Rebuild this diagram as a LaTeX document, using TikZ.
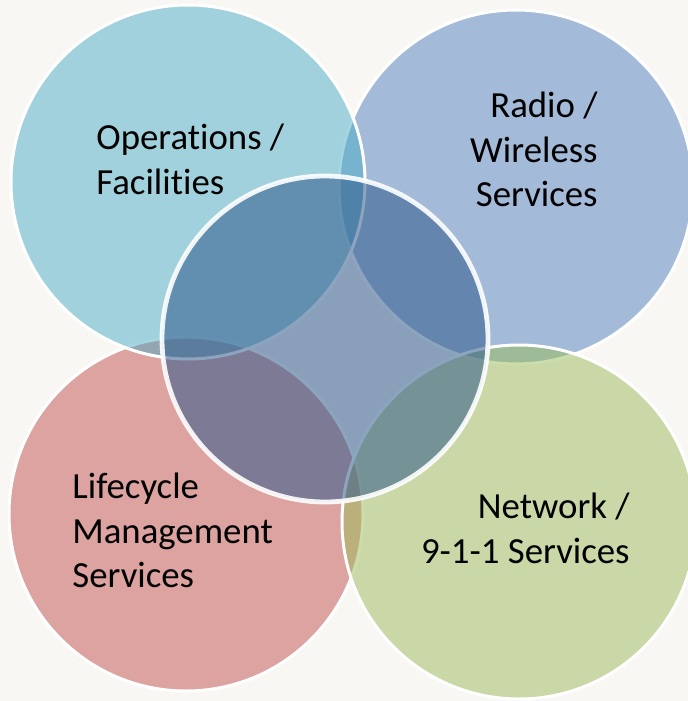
\documentclass[tikz,border=0pt]{standalone}
\usepackage{fontspec}
\setmainfont{Carlito}[Ligatures={NoCommon,NoContextual}]
\usepackage{tikz}
\usepackage{xcolor}
\definecolor{ops-teal}{RGB}{75,172,198}
\definecolor{radio-blue}{RGB}{79,129,189}
\definecolor{life-red}{RGB}{192,80,77}
\definecolor{net-green}{RGB}{155,187,89}
\definecolor{core-blue}{RGB}{48,90,140}
\definecolor{paper}{RGB}{249,247,244}
\tikzset{
    venn-circle/.style = {circle, draw=white, line width=1.5pt, fill opacity=0.5, minimum size=177pt, inner sep=0pt},
    venn-core/.style = {circle, draw=white, draw opacity=0.9, line width=2.4pt, fill=core-blue, fill opacity=0.55, minimum size=163pt, inner sep=0pt},
    venn-label/.style = {text=black, inner sep=0pt, font=\fontsize{18.4}{22.2}\selectfont},
}

\begin{document}
\begin{tikzpicture}[x=0.5pt, y=-0.5pt]
\fill[paper] (0,0) rectangle (688,701);
\useasboundingbox (0,0) rectangle (688,701);
\node[venn-circle, fill=radio-blue] (radio) at (516,187) {};
\node[venn-circle, fill=life-red] (lifecycle) at (186,514) {};
\node[venn-circle, fill=ops-teal] (operations) at (188,182) {};
\node[venn-circle, fill=net-green] (network) at (519,522) {};
\node[venn-core] (core) at (325,339) {};
\node[venn-label, anchor=north west, align=left] (operations-text) at (96,124) {Operations /\\Facilities};
\node[venn-label, anchor=north east, align=right] (radio-text) at (598,92) {Radio /\\Wireless\\Services};
\node[venn-label, anchor=north west, align=left] (lifecycle-text) at (72,473) {Lifecycle\\Management\\Services};
\node[venn-label, anchor=north east, align=right] (network-text) at (630,493) {Network /\\9-1-1 Services};
\end{tikzpicture}
\end{document}
